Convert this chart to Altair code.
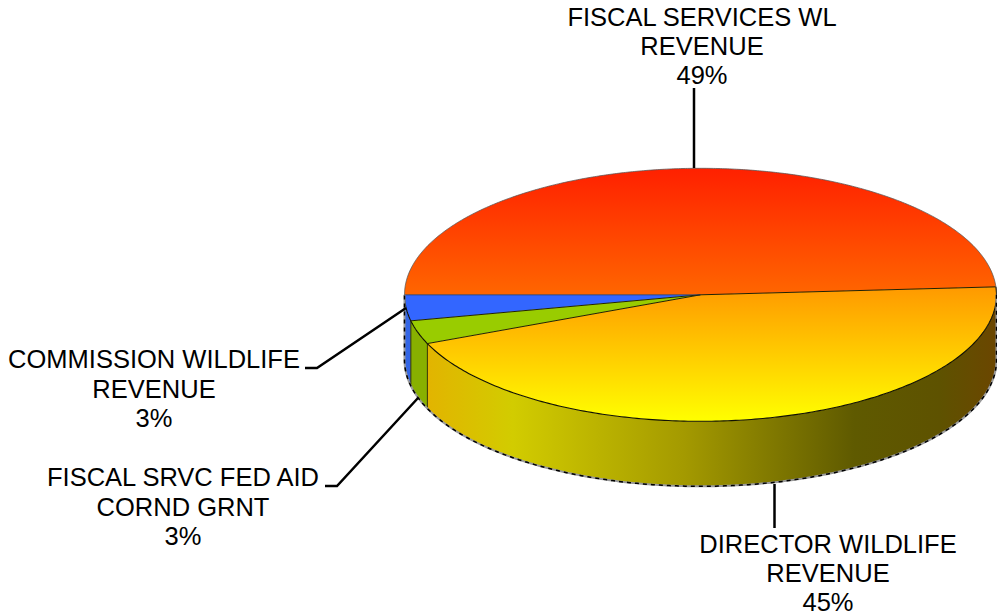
import numpy as np
import pandas as pd
import altair as alt

# ---- chart values ----
categories = ["COMMISSION WILDLIFE REVENUE", "FISCAL SRVC FED AID CORND GRNT",
              "DIRECTOR WILDLIFE REVENUE", "FISCAL SERVICES WL REVENUE"]
shares = [3.3, 3.0, 44.7, 49.0]
label_lines = [
    ["COMMISSION WILDLIFE", "REVENUE", "3%"],
    ["FISCAL SRVC FED AID", "CORND GRNT", "3%"],
    ["DIRECTOR WILDLIFE", "REVENUE", "45%"],
    ["FISCAL SERVICES WL", "REVENUE", "49%"],
]

# ---- layout (page pixels) ----
CX, CY, RX, RY, DEPTH = 700.5, 294.8, 296.0, 126.5, 65.0
label_x = [154, 183, 828, 702]
label_y = [[368, 398, 427], [486, 516, 545], [553, 582, 611], [26, 55, 84]]
leaders = [
    [(305, 368), (317, 368), (406, 308)],
    [(325, 486), (337, 486), (418, 398)],
    [(774.5, 484), (774.5, 528)],
    [(694, 88), (694, 168)],
]
W, H = 989, 608
xs = alt.Scale(domain=[8, 8 + W], nice=False, zero=False)
ys = alt.Scale(domain=[8 + H, 8], nice=False, zero=False)


def grad(stops, vertical=True):
    n = [alt.GradientStop(offset=o, color=c) for o, c in stops]
    if vertical:
        return alt.LinearGradient(gradient="linear", x1=0, x2=0, y1=0, y2=1, stops=n)
    return alt.LinearGradient(gradient="linear", x1=0, x2=1, y1=0, y2=0, stops=n)


top_fill = [
    "#3366ff", "#99cc00",
    grad([(0, "#ff9900"), (1, "#ffff00")]),
    grad([(0, "#ff2000"), (1, "#ff6600")]),
]
wall_fill = [
    "#3366e6", "#88b000",
    grad([(0, "#e2b400"), (0.15, "#d2cc00"), (0.45, "#a49a00"), (0.75, "#5f5a00"),
          (0.9, "#5e5200"), (1, "#6b4600")], False),
]

# slice boundaries, in degrees, running from the left point through the bottom
edges = 180 - np.cumsum([0] + shares) * 3.6


def rim(a0, a1, n=240):
    t = np.radians(np.linspace(a0, a1, n))
    return CX + RX * np.cos(t), CY + RY * np.sin(t)


def polygon_band(px, py):
    """Vertical extent of a convex polygon at each x."""
    sx = np.unique(np.round(px, 3))
    px2, py2 = np.roll(px, -1), np.roll(py, -1)
    rows = []
    for x in sx:
        hits = []
        for a, b, c, d in zip(px, py, px2, py2):
            lo, hi = min(a, c), max(a, c)
            if lo - 1e-3 <= x <= hi + 1e-3:
                if abs(c - a) < 1e-6:
                    hits += [b, d]
                else:
                    hits.append(b + (d - b) * (x - a) / (c - a))
        rows.append((x, min(hits), max(hits)))
    return pd.DataFrame(rows, columns=["x", "y", "y2"])


def band(df, fill):
    return alt.Chart(df).mark_area(fill=fill, interpolate="linear").encode(
        x=alt.X("x:Q", scale=xs, axis=None),
        y=alt.Y("y:Q", scale=ys, axis=None),
        y2="y2:Q",
    )


def path(px, py, **kw):
    df = pd.DataFrame({"x": px, "y": py, "o": np.arange(len(px))})
    return alt.Chart(df).mark_line(**kw).encode(
        x=alt.X("x:Q", scale=xs, axis=None),
        y=alt.Y("y:Q", scale=ys, axis=None),
        order="o:Q",
    )


layers = []

# walls
for i in range(3):
    x, y = rim(edges[i], max(edges[i + 1], 0))
    layers.append(band(pd.DataFrame({"x": x, "y": y, "y2": y + DEPTH}), wall_fill[i]))

# wall dividers
for i in (1, 2):
    a = np.radians(edges[i])
    x0, y0 = CX + RX * np.cos(a), CY + RY * np.sin(a)
    layers.append(path([x0, x0], [y0, y0 + DEPTH], stroke="#333300", strokeWidth=1))

# top faces
for i in range(4):
    ax, ay = rim(edges[i], edges[i + 1])
    px = np.concatenate([[CX], ax])
    py = np.concatenate([[CY], ay])
    layers.append(band(polygon_band(px, py), top_fill[i]))

# front rim and spokes
fx, fy = rim(edges[0], edges[3])
layers.append(path(fx, fy, stroke="#111100", strokeWidth=1.1))
for i in range(1, 4):
    a = np.radians(edges[i])
    layers.append(path([CX, CX + RX * np.cos(a)], [CY, CY + RY * np.sin(a)],
                       stroke="#222200", strokeWidth=1))
layers.append(path([CX, CX - RX], [CY, CY], stroke="#223355", strokeWidth=0.8))

# back of the top face: thin soft edge
back = np.radians(np.linspace(180, 360, 400))
layers.append(path(CX + RX * np.cos(back), CY + RY * np.sin(back),
                   stroke="#555555", strokeWidth=1.0, opacity=0.75))

# base of the wall: dithered edge
base = np.radians(np.linspace(0, 180, 400))
sil_x = np.concatenate([[CX + RX], CX + RX * np.cos(base), [CX - RX]])
sil_y = np.concatenate([[CY], CY + DEPTH + RY * np.sin(base), [CY]])
layers.append(path(sil_x, sil_y, stroke="#9a9a9a", strokeWidth=2))
layers.append(path(sil_x, sil_y, stroke="#000000", strokeWidth=1.5, strokeDash=[4, 4]))

# leader lines
for pts in leaders:
    p = np.array(pts, float)
    layers.append(path(p[:, 0], p[:, 1], stroke="#000000", strokeWidth=2.5))

# labels
rows = []
for lines, lx, lys in zip(label_lines, label_x, label_y):
    for t, ly in zip(lines, lys):
        rows.append({"t": t, "x": lx, "y": ly})
layers.append(alt.Chart(pd.DataFrame(rows)).mark_text(
    font="Liberation Sans", fontSize=25.5, color="#000000", align="center", baseline="alphabetic"
).encode(
    x=alt.X("x:Q", scale=xs, axis=None),
    y=alt.Y("y:Q", scale=ys, axis=None),
    text="t:N",
))

chart = alt.layer(*layers).properties(
    width=W, height=H, padding=0, autosize=alt.AutoSizeParams(type="none"), background="#ffffff"
).configure_view(stroke=None)

chart.save("out.html", embed_options={"renderer": "svg", "actions": False})
